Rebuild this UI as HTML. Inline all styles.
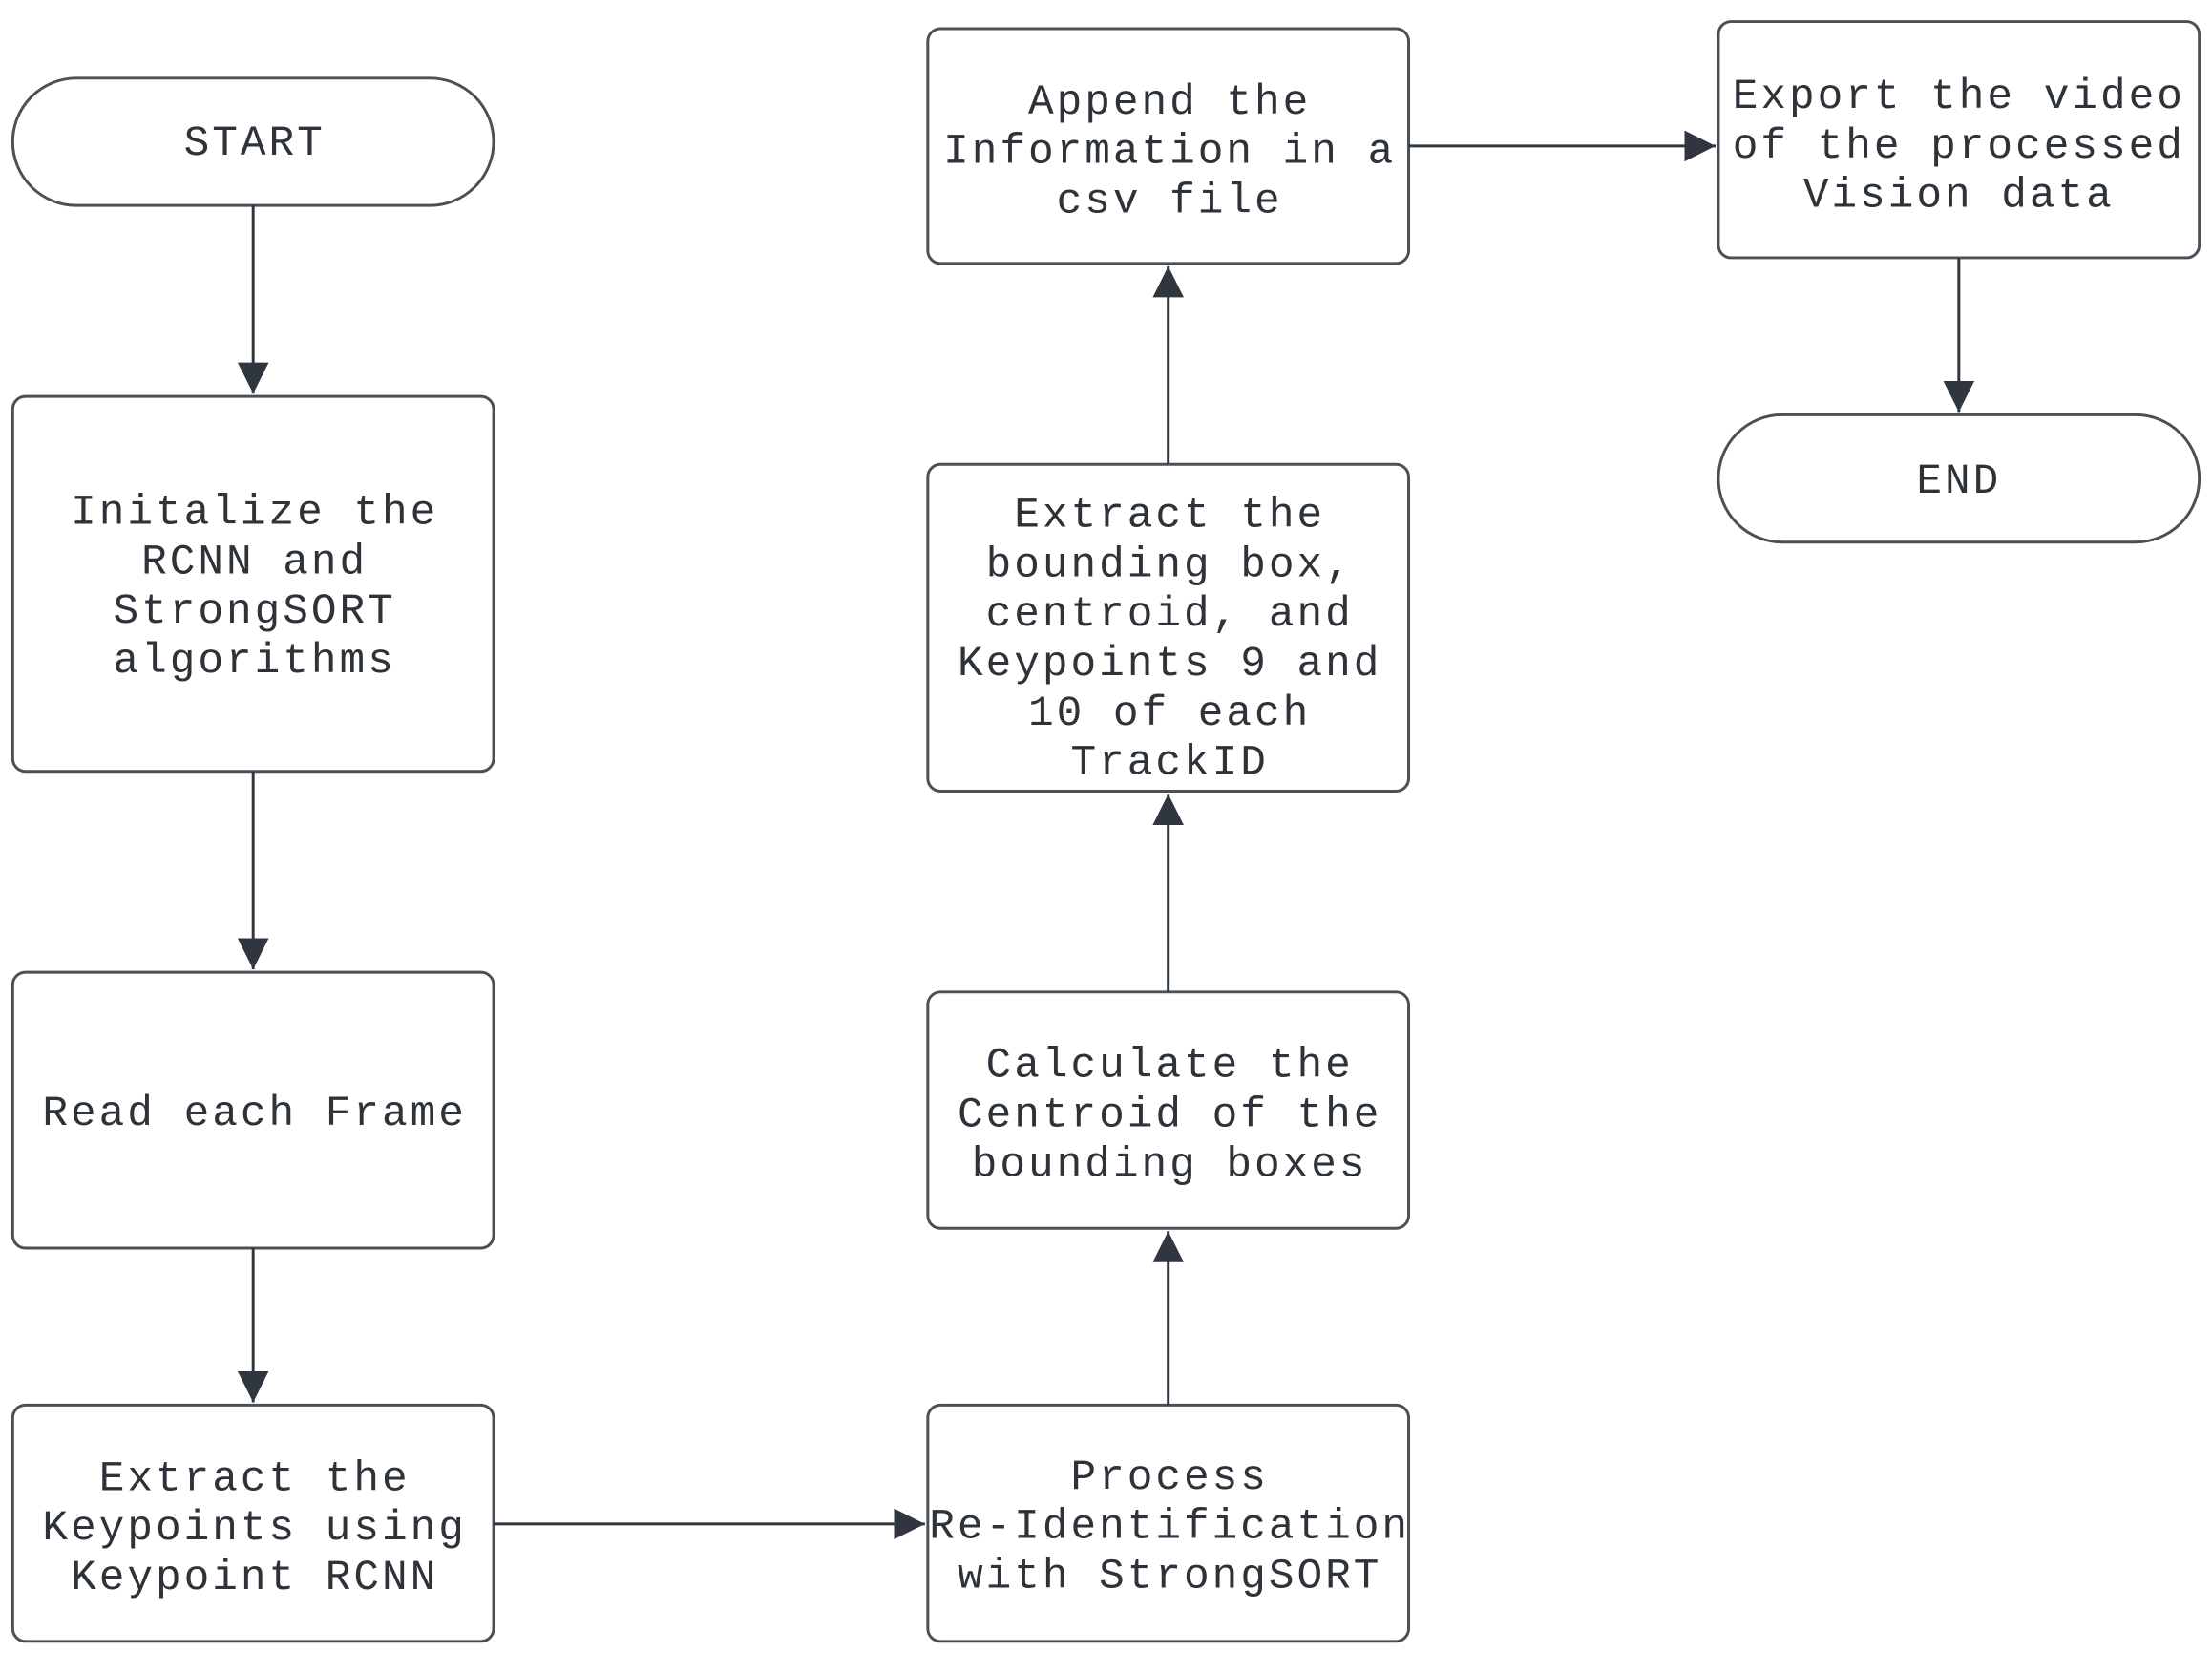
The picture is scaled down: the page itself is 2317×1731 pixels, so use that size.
<!DOCTYPE html>
<html><head><meta charset="utf-8"><style>
html,body{margin:0;padding:0;background:#fff;}
svg{display:block;}
text{font-family:"Liberation Mono",monospace;font-size:30px;letter-spacing:2px;fill:#2e333a;text-anchor:middle;}
</style></head><body>
<svg width="2317" height="1731" viewBox="0 0 1564 1168" xmlns="http://www.w3.org/2000/svg">
<defs><marker id="a" viewBox="0 0 10 10" refX="10" refY="5" markerWidth="22" markerHeight="22" markerUnits="userSpaceOnUse" orient="auto"><path d="M0,0 L10,5 L0,10 z" fill="#2f3640"/></marker></defs>
<g fill="#fff" stroke="#4a5058" stroke-width="2">
<rect x="9" y="55" width="340" height="90" rx="45"/>
<rect x="9" y="280" width="340" height="265" rx="9"/>
<rect x="9" y="687" width="340" height="195" rx="9"/>
<rect x="9" y="993" width="340" height="167" rx="9"/>
<rect x="656" y="993" width="340" height="167" rx="9"/>
<rect x="656" y="701" width="340" height="167" rx="9"/>
<rect x="656" y="328" width="340" height="231" rx="9"/>
<rect x="656" y="20" width="340" height="166" rx="9"/>
<rect x="1215" y="15" width="340" height="167" rx="9"/>
<rect x="1215" y="293" width="340" height="90" rx="45"/>
</g>
<g stroke="#2f3640" stroke-width="2" fill="none" marker-end="url(#a)">
<line x1="179" y1="145" x2="179" y2="278"/>
<line x1="179" y1="545" x2="179" y2="685"/>
<line x1="179" y1="882" x2="179" y2="991"/>
<line x1="349" y1="1077" x2="654" y2="1077"/>
<line x1="826" y1="993" x2="826" y2="870"/>
<line x1="826" y1="701" x2="826" y2="561"/>
<line x1="826" y1="328" x2="826" y2="188"/>
<line x1="996" y1="103" x2="1213" y2="103"/>
<line x1="1385" y1="182" x2="1385" y2="291"/>
</g>
<text x="180" y="109">START</text>
<text x="180" y="370">Initalize the</text>
<text x="180" y="405">RCNN and</text>
<text x="180" y="440">StrongSORT</text>
<text x="180" y="475">algorithms</text>
<text x="180" y="795">Read each Frame</text>
<text x="180" y="1053">Extract the</text>
<text x="180" y="1088">Keypoints using</text>
<text x="180" y="1123">Keypoint RCNN</text>
<text x="827" y="1052">Process</text>
<text x="827" y="1087">Re-Identification</text>
<text x="827" y="1122">with StrongSORT</text>
<text x="827" y="761">Calculate the</text>
<text x="827" y="796">Centroid of the</text>
<text x="827" y="831">bounding boxes</text>
<text x="827" y="372">Extract the</text>
<text x="827" y="407">bounding box,</text>
<text x="827" y="442">centroid, and</text>
<text x="827" y="477">Keypoints 9 and</text>
<text x="827" y="512">10 of each</text>
<text x="827" y="547">TrackID</text>
<text x="827" y="80">Append the</text>
<text x="827" y="115">Information in a</text>
<text x="827" y="150">csv file</text>
<text x="1385" y="76">Export the video</text>
<text x="1385" y="111">of the processed</text>
<text x="1385" y="146">Vision data</text>
<text x="1385" y="348">END</text>
</svg>
</body></html>
